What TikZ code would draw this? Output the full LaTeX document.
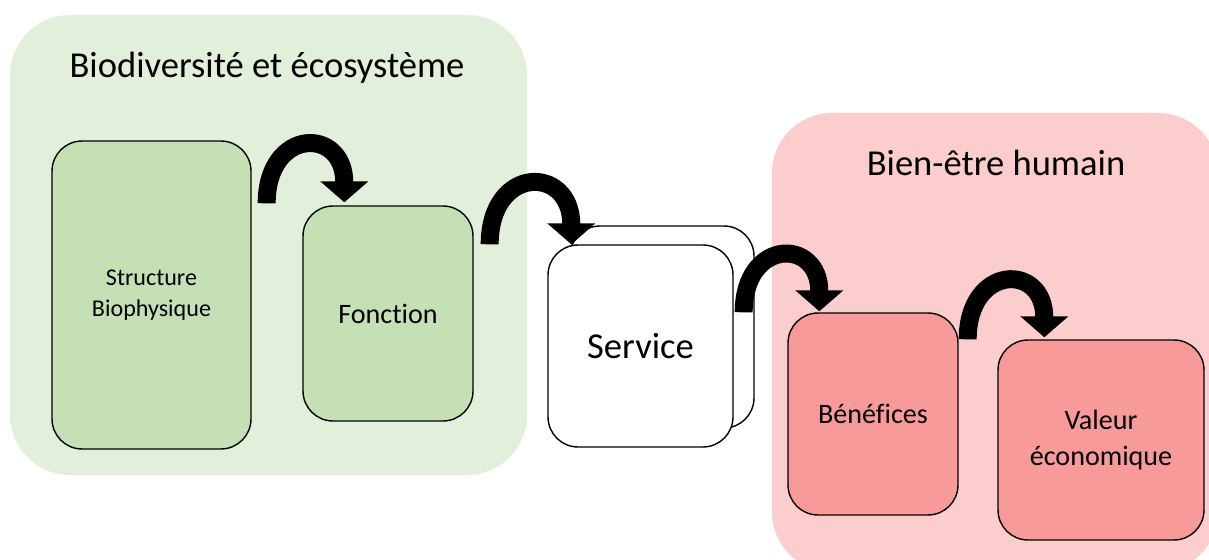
\documentclass[tikz,border=0pt]{standalone}
\usepackage{fontspec}
\setmainfont{Carlito}[Ligatures=NoCommon]
\usetikzlibrary{arrows.meta,calc}

\begin{document}
\begin{tikzpicture}[x=0.02cm,y=-0.02cm,
  box/.style={draw=black, line width=0.8pt, rounded corners=0.6cm, align=center, inner sep=0pt},
  titre/.style={font=\fontsize{20.8}{25}\selectfont},
  curvearrow/.style={line width=0.36cm, -{Triangle[width=0.94cm,length=0.42cm]}, out=90, in=90, looseness=2.5}]

% Couleurs
\definecolor{panelVert}{HTML}{E2EFDA}
\definecolor{boiteVert}{HTML}{C5E0B4}
\definecolor{panelRose}{HTML}{FBCDCD}
\definecolor{boiteRose}{HTML}{F8999A}

\fill[white] (0,0) rectangle (1209,560);
\useasboundingbox (0,0) rectangle (1209,560);

% Cadres de fond
\fill[panelVert, rounded corners=1.2cm] (10,15) rectangle (527,475);
\fill[panelRose, rounded corners=1.2cm] (772,113) rectangle (1218,572);

% Titres
\node[titre] (titreBio) at (267,68) {Biodiversité et écosystème};
\node[titre] (titreBien) at (996,163) {Bien-être humain};

% Boites
\node[box, fill=boiteVert, minimum width=3.98cm, minimum height=6.16cm,
  font=\fontsize{13.7}{17.5}\selectfont] (struct) at (151.5,295) {Structure\\Biophysique};
\node[box, fill=boiteVert, minimum width=3.4cm, minimum height=4.3cm,
  font=\fontsize{16}{20}\selectfont] (fonc) at (388,313.5) {Fonction};

% Service (deux feuilles)
\node[box, fill=white, minimum width=3.68cm, minimum height=4.04cm] (servB) at (662,327) {};
\node[box, fill=white, minimum width=3.7cm, minimum height=4.04cm,
  font=\fontsize{20.8}{25}\selectfont] (servA) at (640.5,346) {Service};

\node[box, fill=boiteRose, minimum width=3.4cm, minimum height=4.04cm,
  font=\fontsize{16}{20}\selectfont] (bene) at (873,414) {Bénéfices};
\node[box, fill=boiteRose, minimum width=4.12cm, minimum height=4cm,
  font=\fontsize{16}{21}\selectfont] (valeur) at (1101,440) {Valeur\\économique};

% Fleches courbes
\draw[curvearrow] ($(struct.north east)+(15,63)$) to ($(fonc.north west)+(42,-3)$);
\draw[curvearrow] ($(fonc.north east)+(16,39)$) to ($(servA.north west)+(24,0)$);
\draw[curvearrow] ($(servA.north east)+(10,68)$) to ($(bene.north west)+(32,-1)$);
\draw[curvearrow] ($(bene.north east)+(9,27)$) to ($(valeur.north west)+(47,-2)$);

\end{tikzpicture}
\end{document}
